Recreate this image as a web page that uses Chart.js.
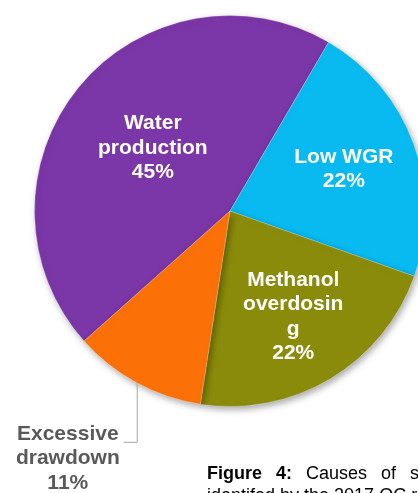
<!DOCTYPE html>
<html lang="en">
<head>
  <meta charset="UTF-8">
  <title>Causes</title>
  <script src="https://cdn.jsdelivr.net/npm/chart.js"></script>
  <style>
    html, body { margin: 0; padding: 0; background: #fff; overflow: hidden; }
    #wrap { position: relative; width: 418px; height: 493px; overflow: hidden; }
    #causeChart { position: absolute; left: 0; top: 0; }
    #caption {
      position: absolute; left: 207px; top: 462px;
      font-family: "Liberation Sans", Arial, sans-serif; font-size: 18px; line-height: 22px;
      color: #000; white-space: nowrap;
    }
    #caption .l1 { word-spacing: 9px; }
  </style>
</head>
<body>
<div id="wrap">
  <canvas id="causeChart" width="440" height="493"></canvas>
  <div id="caption">
    <div class="l1"><b>Figure 4:</b> Causes of slugging</div>
    <div>identifed by the 2017 OC review</div>
  </div>
</div>

<script>
  // slice data
  var causes = ['Water production', 'Low WGR', 'Methanol overdosing', 'Excessive drawdown'];
  var shares = [45, 22, 22, 11];
  var sliceColors = ['#7B36A7', '#08BAF0', '#8B8B0B', '#FB7108'];

  // how the labels wrap in the picture
  var labelLines = [['Water', 'production'], ['Low WGR'], ['Methanol', 'overdosin', 'g'], ['Excessive', 'drawdown']];
  // radius fraction for the inside labels, null = outside with a leader line
  var labelRadius = [0.51, 0.62, 0.63, null];

  var total = shares.reduce(function(a, b) { return a + b; }, 0);

  var sliceLabels = {
    id: 'sliceLabels',
    afterDatasetsDraw: function(chart) {
      var ctx = chart.ctx;
      var arcs = chart.getDatasetMeta(0).data;
      ctx.save();
      ctx.font = 'bold 21px "Liberation Sans", Arial, sans-serif';
      ctx.textAlign = 'center';
      ctx.textBaseline = 'middle';
      var lh = 24.5;
      arcs.forEach(function(arc, i) {
        var pct = Math.round(shares[i] / total * 100) + '%';
        var lines = labelLines[i].concat([pct]);
        var mid = (arc.startAngle + arc.endAngle) / 2;
        if (labelRadius[i] !== null) {
          var r = arc.outerRadius * labelRadius[i];
          var cx = arc.x + Math.cos(mid) * r;
          var cy = arc.y + Math.sin(mid) * r;
          ctx.fillStyle = '#ffffff';
          var y0 = cy - (lines.length - 1) * lh / 2;
          lines.forEach(function(t, k) { ctx.fillText(t, cx, y0 + k * lh); });
        } else {
          // leader line down then left
          var px = arc.x + Math.cos(mid) * arc.outerRadius;
          var py = arc.y + Math.sin(mid) * arc.outerRadius;
          var ex = px, ey = py + 59;
          ctx.strokeStyle = '#A6A6A6';
          ctx.lineWidth = 1;
          ctx.beginPath();
          ctx.moveTo(px + 0.5, py);
          ctx.lineTo(ex + 0.5, ey + 0.5);
          ctx.lineTo(ex - 13, ey + 0.5);
          ctx.stroke();
          var w = Math.max.apply(null, lines.map(function(t) { return ctx.measureText(t).width; }));
          var tx = ex - 17 - w / 2;
          ctx.fillStyle = '#595959';
          lines.forEach(function(t, k) { ctx.fillText(t, tx, ey - 8 + k * lh); });
        }
      });
      ctx.restore();
    }
  };

  var pieShadow = {
    id: 'pieShadow',
    beforeDatasetsDraw: function(chart) {
      var ctx = chart.ctx;
      ctx.save();
      ctx.shadowColor = 'rgba(0,0,0,0.35)';
      ctx.shadowBlur = 7;
      ctx.shadowOffsetX = 2;
      ctx.shadowOffsetY = 3;
    },
    afterDatasetsDraw: function(chart) {
      chart.ctx.restore();
    }
  };

  var ctx = document.getElementById('causeChart').getContext('2d');
  new Chart(ctx, {
    type: 'pie',
    data: {
      labels: causes,
      datasets: [{
        data: shares,
        backgroundColor: sliceColors,
        borderColor: 'rgba(255,255,255,0.25)',
        borderWidth: 1
      }]
    },
    options: {
      responsive: false,
      animation: false,
      devicePixelRatio: 1,
      rotation: 228.3,
      layout: { padding: { left: 34, right: 14, top: 15, bottom: 86 } },
      plugins: {
        legend: { display: false },
        tooltip: { enabled: false }
      }
    },
    plugins: [pieShadow, sliceLabels]
  });
</script>
</body>
</html>
